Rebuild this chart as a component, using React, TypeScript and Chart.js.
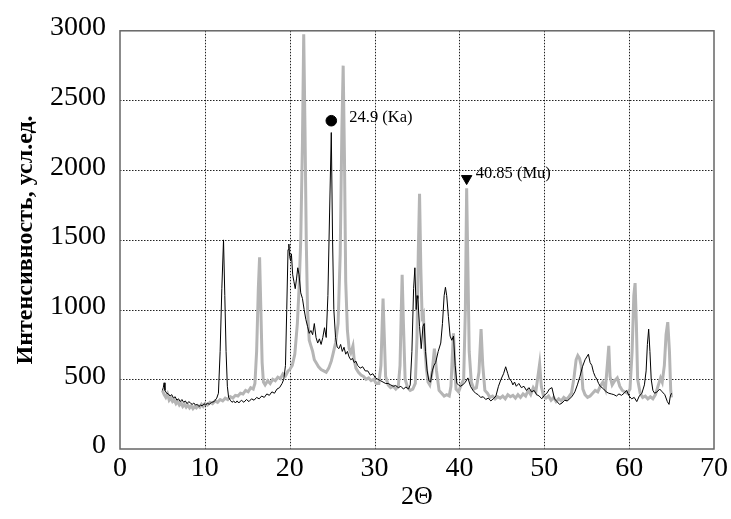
import { useEffect, useRef } from "react";
import { Chart, registerables } from "chart.js";
Chart.register(...registerables);

// Gray (thick) pattern
const grayX = [5.0,5.2,5.4,5.6,5.8,6.0,6.2,6.4,6.6,6.8,7.0,7.2,7.4,7.6,7.8,8.0,8.2,8.4,8.6,8.8,9.0,9.2,9.4,9.6,9.8,10.0,10.3,10.6,10.9,11.2,11.5,11.8,12.1,12.4,12.7,13.0,13.3,13.6,13.9,14.2,14.5,14.8,15.1,15.4,15.7,15.9,16.1,16.3,16.45,16.6,16.75,16.9,17.1,17.4,17.7,18.0,18.3,18.6,18.9,19.2,19.5,19.8,20.0,20.3,20.6,20.9,21.1,21.3,21.5,21.65,21.8,21.95,22.1,22.3,22.5,22.7,22.9,23.1,23.4,23.7,24.0,24.3,24.6,24.9,25.1,25.4,25.7,25.95,26.15,26.3,26.45,26.6,26.8,27.0,27.2,27.45,27.6,27.8,28.1,28.4,28.7,29.0,29.3,29.6,29.9,30.2,30.5,30.75,30.9,31.0,31.15,31.3,31.6,31.9,32.2,32.5,32.8,33.0,33.15,33.25,33.4,33.6,33.9,34.2,34.5,34.8,35.0,35.15,35.3,35.45,35.6,35.75,35.9,36.1,36.3,36.5,36.8,37.05,37.3,37.6,37.9,38.2,38.5,38.8,39.0,39.15,39.3,39.45,39.6,39.9,40.2,40.5,40.7,40.85,41.0,41.15,41.4,41.7,42.0,42.3,42.55,42.75,43.0,43.3,43.6,43.9,44.2,44.5,44.8,45.1,45.4,45.7,46.0,46.3,46.6,46.9,47.2,47.5,47.8,48.1,48.4,48.7,49.0,49.25,49.45,49.65,49.9,50.2,50.5,50.8,51.1,51.4,51.7,52.0,52.3,52.6,52.9,53.2,53.5,53.75,53.95,54.15,54.35,54.55,54.8,55.1,55.4,55.7,56.0,56.3,56.6,56.9,57.2,57.45,57.6,57.75,58.0,58.3,58.6,58.9,59.2,59.5,59.8,60.1,60.35,60.55,60.7,60.85,61.0,61.3,61.6,61.9,62.2,62.5,62.8,63.1,63.4,63.7,63.9,64.15,64.35,64.55,64.75,64.9,65.0];
const grayY = [420,390,370,395,350,365,340,350,325,340,315,330,305,320,300,315,295,310,290,305,295,310,300,320,305,325,315,335,325,345,335,355,345,365,355,375,365,385,380,400,395,420,410,440,430,470,700,1150,1375,1000,620,480,460,490,470,500,490,515,505,540,525,560,570,600,680,900,1150,1500,2200,2975,2300,1500,1000,780,740,700,640,620,590,570,560,550,580,630,680,760,900,1400,2300,2750,2100,1200,850,720,690,740,640,580,550,530,520,500,510,490,500,470,470,600,900,1080,800,520,460,440,450,430,450,600,1000,1250,900,500,440,420,430,470,800,1400,1830,1300,950,970,750,580,480,460,560,720,560,420,400,380,390,380,450,650,830,600,430,410,460,500,1000,1870,1300,700,480,430,440,550,860,600,420,400,370,380,360,375,365,380,360,390,375,385,365,390,370,395,380,420,390,440,410,520,610,450,380,365,380,350,370,340,360,345,370,355,375,400,510,640,670,650,600,430,390,370,380,400,420,410,450,480,430,620,740,520,460,490,510,450,420,410,400,430,700,1100,1190,900,500,400,370,380,360,375,360,390,450,510,480,600,820,910,700,420,370];

// Black (thin) pattern
const blackX = [5.0,5.1,5.2,5.3,5.5,5.7,5.9,6.1,6.3,6.5,6.7,6.9,7.1,7.3,7.5,7.7,7.9,8.1,8.3,8.5,8.7,8.9,9.1,9.3,9.5,9.7,9.9,10.1,10.3,10.5,10.8,11.1,11.4,11.6,11.8,12.0,12.2,12.35,12.5,12.65,12.8,13.0,13.2,13.4,13.6,13.8,14.0,14.3,14.6,14.9,15.2,15.5,15.8,16.1,16.4,16.7,17.0,17.3,17.6,17.9,18.2,18.5,18.8,19.1,19.3,19.5,19.65,19.8,19.9,20.0,20.1,20.2,20.35,20.5,20.65,20.8,20.95,21.1,21.3,21.5,21.7,21.9,22.1,22.3,22.5,22.7,22.9,23.1,23.3,23.5,23.7,23.9,24.1,24.3,24.5,24.7,24.9,25.05,25.2,25.4,25.6,25.8,26.0,26.2,26.4,26.6,26.8,27.0,27.2,27.4,27.6,27.8,28.0,28.3,28.6,28.9,29.2,29.5,29.8,30.1,30.4,30.7,31.0,31.3,31.6,31.9,32.2,32.5,32.8,33.1,33.4,33.7,34.0,34.2,34.4,34.6,34.75,34.9,35.0,35.1,35.3,35.5,35.7,35.85,36.0,36.2,36.4,36.6,36.8,37.0,37.2,37.5,37.8,38.0,38.2,38.35,38.5,38.7,38.9,39.1,39.3,39.5,39.7,39.9,40.1,40.4,40.7,41.0,41.3,41.6,41.9,42.2,42.5,42.8,43.1,43.4,43.7,44.0,44.3,44.6,44.9,45.2,45.45,45.7,45.9,46.1,46.3,46.5,46.7,47.0,47.3,47.6,47.9,48.2,48.5,48.8,49.1,49.4,49.7,50.0,50.3,50.6,50.9,51.2,51.5,51.8,52.1,52.4,52.7,53.0,53.3,53.6,53.9,54.2,54.5,54.8,55.0,55.2,55.4,55.6,55.8,56.0,56.2,56.4,56.6,56.8,57.0,57.3,57.6,57.9,58.2,58.5,58.8,59.1,59.4,59.7,60.0,60.3,60.6,60.9,61.2,61.5,61.8,62.0,62.15,62.3,62.45,62.6,62.8,63.0,63.3,63.6,63.9,64.2,64.5,64.7,64.85,65.0];
const blackY = [420,440,475,420,400,395,380,390,365,375,350,360,340,355,335,345,325,340,330,320,330,315,320,305,315,310,325,315,330,320,335,340,365,400,700,1150,1500,1100,700,450,370,350,335,345,330,345,330,350,335,355,340,360,350,370,360,380,370,395,385,410,400,430,440,470,500,600,1000,1430,1470,1380,1350,1400,1250,1200,1150,1220,1300,1250,1120,1080,1000,930,880,830,850,820,900,800,760,790,750,800,870,800,1100,1700,2270,1500,1000,800,730,720,750,700,730,680,700,660,640,650,620,630,600,580,590,560,560,530,540,510,500,490,480,470,470,460,450,455,440,450,430,445,430,460,700,1150,1300,1000,1100,1080,880,720,880,900,700,560,490,480,560,600,620,700,760,900,1100,1160,1100,950,810,780,810,600,470,460,450,460,480,510,450,420,400,390,370,375,355,365,345,360,380,450,500,540,590,540,500,490,460,480,450,470,440,450,420,440,410,420,390,380,360,385,400,430,440,360,340,320,330,350,345,360,380,410,460,520,590,640,660,680,620,600,550,520,500,470,450,440,430,410,400,395,390,380,395,385,400,420,380,360,370,340,380,400,460,560,750,860,700,500,420,400,410,430,410,390,340,320,380,400];

// Marked peaks
const peakX = [24.9, 40.85];
const peakY = [2355, 1940];
const peakLabels = ["24.9 (Ka)", "40.85 (Mu)"];

const xMin = 0, xMax = 70, xStep = 10;
const yMin = 0, yMax = 3000, yStep = 500;

const toPts = (xs: number[], ys: number[]) => xs.map((x, i) => ({ x, y: ys[i] }));

export default function App() {
  const ref = useRef<HTMLCanvasElement | null>(null);
  useEffect(() => {
    if (!ref.current) return;
    const frame = {
      id: "frame",
      beforeDatasetsDraw(chart: any) {
        const { ctx, chartArea: a, scales } = chart;
        ctx.save();
        ctx.strokeStyle = "#222";
        ctx.lineWidth = 1;
        ctx.setLineDash([1.5, 1.5]);
        ctx.beginPath();
        for (let v = xMin + xStep; v < xMax; v += xStep) {
          const p = Math.round(scales.x.getPixelForValue(v)) + 0.5;
          ctx.moveTo(p, a.top);
          ctx.lineTo(p, a.bottom);
        }
        for (let v = yMin + yStep; v < yMax; v += yStep) {
          const p = Math.round(scales.y.getPixelForValue(v)) + 0.5;
          ctx.moveTo(a.left, p);
          ctx.lineTo(a.right, p);
        }
        ctx.stroke();
        ctx.restore();
      },
      afterDatasetsDraw(chart: any) {
        const { ctx, chartArea: a, scales } = chart;
        ctx.save();
        ctx.strokeStyle = "#666";
        ctx.lineWidth = 1.5;
        ctx.strokeRect(a.left, a.top, a.right - a.left, a.bottom - a.top);
        ctx.fillStyle = "#000";
        ctx.font = '16.5px "Liberation Serif"';
        ctx.textBaseline = "middle";
        ctx.textAlign = "left";
        const dx = [18, 9];
        const dy = [-3, -5];
        peakLabels.forEach((t, i) => {
          const px = scales.x.getPixelForValue(peakX[i]);
          const py = scales.y.getPixelForValue(peakY[i]);
          ctx.fillText(t, px + dx[i], py + dy[i]);
        });
        ctx.restore();
      },
    };
    const chart = new Chart(ref.current, {
      type: "scatter",
      data: {
        datasets: [
          {
            data: [{ x: peakX[0], y: peakY[0] }],
            pointStyle: "circle",
            pointRadius: 5.3,
            backgroundColor: "#000",
            borderColor: "#000",
            showLine: false,
            order: 0,
          },
          {
            data: [{ x: peakX[1], y: peakY[1] }],
            pointStyle: "triangle",
            rotation: 180,
            pointRadius: 6,
            backgroundColor: "#000",
            borderColor: "#000",
            showLine: false,
            order: 0,
          },
          {
            data: toPts(blackX, blackY),
            showLine: true,
            borderColor: "#000",
            borderWidth: 1,
            pointRadius: 0,
            tension: 0,
            order: 1,
          },
          {
            data: toPts(grayX, grayY),
            showLine: true,
            borderColor: "#b5b5b5",
            borderWidth: 3,
            pointRadius: 0,
            tension: 0,
            order: 2,
          },
        ] as any,
      },
      options: {
        animation: false,
        responsive: true,
        maintainAspectRatio: false,
        layout: { padding: { top: 21, right: 16, left: 0, bottom: 0 } },
        plugins: { legend: { display: false }, tooltip: { enabled: false } },
        scales: {
          x: {
            type: "linear",
            min: xMin,
            max: xMax,
            ticks: { stepSize: xStep, color: "#000", font: { family: "Liberation Serif", size: 28 }, padding: 3, callback: (v: any) => String(v) },
            grid: { display: false, drawTicks: false },
            border: { display: false },
            title: { display: true, text: "2Θ", color: "#000", font: { family: "Liberation Serif", size: 26 }, padding: { top: 0, bottom: 6 } },
            afterFit(s: any) { s.height = 70; },
          },
          y: {
            min: yMin,
            max: yMax,
            ticks: { stepSize: yStep, color: "#000", font: { family: "Liberation Serif", size: 28 }, padding: 14, labelOffset: -3, callback: (v: any) => String(v) } as any,
            grid: { display: false, drawTicks: false },
            border: { display: false },
            title: { display: true, text: "Интенсивность, усл.ед.", color: "#000", font: { family: "Liberation Serif", size: 24, weight: "bold" }, padding: { top: 11, bottom: 0 } },
            afterFit(s: any) { s.width = 120; },
          },
        },
      } as any,
      plugins: [frame],
    });
    return () => chart.destroy();
  }, []);
  return (
    <div style={{ position: "fixed", left: 0, top: 0, width: 731, height: 519, background: "#fff" }}>
      <canvas ref={ref} />
    </div>
  );
}
